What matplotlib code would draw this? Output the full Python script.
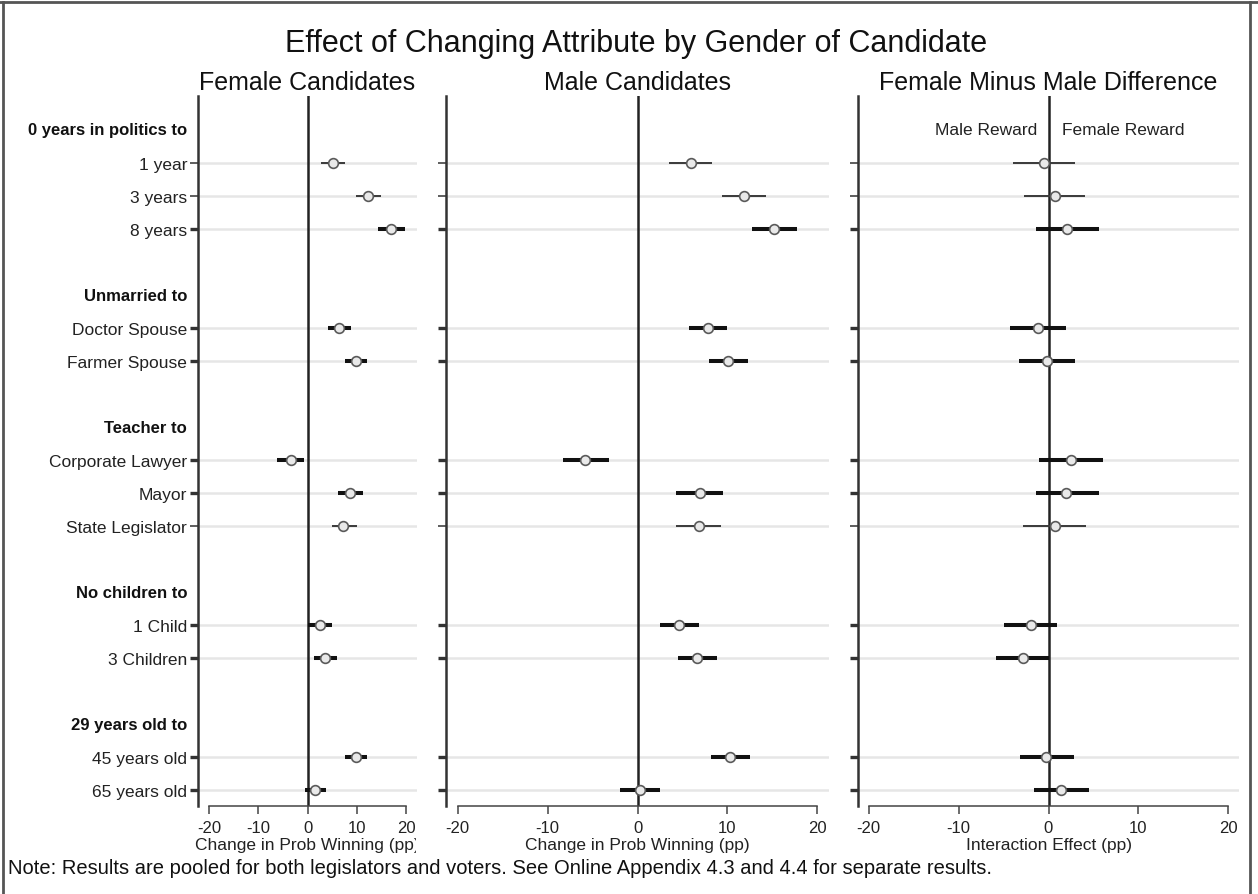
import matplotlib.pyplot as plt
from matplotlib.lines import Line2D
from matplotlib.transforms import Bbox, TransformedBbox, blended_transform_factory

plt.rcParams['font.family'] = ['Liberation Sans', 'DejaVu Sans']

# attribute groups and the levels compared against the baseline
groups = ["0 years in politics to", "Unmarried to", "Teacher to",
          "No children to", "29 years old to"]
levels = [["1 year", "3 years", "8 years"],
          ["Doctor Spouse", "Farmer Spouse"],
          ["Corporate Lawyer", "Mayor", "State Legislator"],
          ["1 Child", "3 Children"],
          ["45 years old", "65 years old"]]

# estimates and 95% intervals (pp), one value per level in the order above
female_est = [5.2, 12.3, 16.9, 6.4, 9.8, -3.4, 8.6, 7.2, 2.5, 3.6, 9.9, 1.5]
female_lo = [2.8, 9.8, 14.3, 4.2, 7.6, -6.1, 6.1, 4.9, 0.1, 1.4, 7.6, -0.6]
female_hi = [7.7, 14.8, 19.7, 8.8, 12.1, -0.8, 11.2, 10.0, 4.9, 6.0, 12.1, 3.8]

male_est = [5.9, 11.9, 15.2, 7.8, 10.1, -5.8, 6.9, 6.8, 4.6, 6.6, 10.3, 0.3]
male_lo = [3.5, 9.4, 12.7, 5.7, 8.0, -8.3, 4.3, 4.3, 2.5, 4.5, 8.2, -2.0]
male_hi = [8.3, 14.3, 17.7, 9.9, 12.3, -3.2, 9.5, 9.3, 6.8, 8.8, 12.5, 2.5]

diff_est = [-0.5, 0.7, 2.1, -1.2, -0.2, 2.5, 2.0, 0.7, -2.0, -2.8, -0.3, 1.4]
diff_lo = [-3.9, -2.7, -1.4, -4.3, -3.3, -1.1, -1.4, -2.8, -5.0, -5.8, -3.2, -1.6]
diff_hi = [2.9, 4.1, 5.6, 1.9, 2.9, 6.1, 5.6, 4.2, 1.0, 0.1, 2.8, 4.5]

# rows drawn with the heavy interval line
heavy = [False, False, True, True, True, True, True, False, True, True, True, True]

xticks = [-20, -10, 0, 10, 20]

# row layout: header row, its levels, then one blank row
ypos, header_y, labels = [], [], []
r = 0
for g, lv in zip(groups, levels):
    header_y.append(r)
    r += 1
    for name in lv:
        ypos.append(r)
        labels.append(name)
        r += 1
    r += 1

W, H = 1258, 895
fig = plt.figure(figsize=(W / 100, H / 100), dpi=100)

panels = [
    ("Female Candidates", female_est, female_lo, female_hi, "Change in Prob Winning (pp)", 198, 417, 22.2),
    ("Male Candidates", male_est, male_lo, male_hi, "Change in Prob Winning (pp)", 446, 829, 21.3),
    ("Female Minus Male Difference", diff_est, diff_lo, diff_hi, "Interaction Effect (pp)", 858, 1239, 21.2),
]

axes = []
for i, (title, est, lo, hi, xlab, x0, x1, lim) in enumerate(panels):
    ax = fig.add_axes([x0 / W, 1 - 807 / H, (x1 - x0) / W, 710 / H])
    axes.append(ax)
    ax.set_xlim(-lim, lim)
    ax.set_ylim(20.48, -1.03)

    for y in ypos:
        ax.axhline(y, color='#e6e6e6', lw=1.8, zorder=0)
    ax.axvline(0, color='#222222', lw=1.8, zorder=1)

    for y, a, b, hv in zip(ypos, lo, hi, heavy):
        if hv:
            ax.plot([a, b], [y, y], color='#111111', lw=2.9, solid_capstyle='butt', zorder=2)
        else:
            ax.plot([a, b], [y, y], color='#3a3a3a', lw=1.4, solid_capstyle='butt', zorder=2)
    ax.plot(est, ypos, 'o', mfc='#e9e9e9', mec='#5a5a5a', ms=7, mew=1.2, zorder=4)

    ax.spines['top'].set_visible(False)
    ax.spines['right'].set_visible(False)
    ax.spines['left'].set_linewidth(1.8)
    ax.spines['left'].set_color('#333333')
    ax.spines['bottom'].set_linewidth(1.1)
    ax.spines['bottom'].set_color('#444444')
    ax.spines['bottom'].set_bounds(-20, 20)

    ax.set_xticks(xticks)
    ax.set_xticklabels([str(t) for t in xticks])
    ax.tick_params(axis='x', length=5.8, width=1.1, color='#444444', labelsize=12,
                   pad=4, labelcolor='#222222')
    ax.set_yticks(ypos)
    if i == 0:
        ax.set_yticklabels(labels)
    else:
        ax.set_yticklabels([])
    ax.tick_params(axis='y', length=5.8, color='#333333', labelsize=12.5, pad=2,
                   labelcolor='#222222')
    for t, hv in zip(ax.yaxis.get_major_ticks(), heavy):
        t.tick1line.set_markeredgewidth(2.4 if hv else 1.1)

    ax.set_title(title, fontsize=18, pad=5, color='#111111')
    lbl = ax.set_xlabel(xlab, fontsize=12.5, labelpad=2, color='#222222')
    if i == 0:
        # label runs past the panel edge and is cut off there
        lbl.set_clip_on(True)
        lbl.set_clip_box(TransformedBbox(Bbox([[-1, -1], [0.995, 2]]), ax.transAxes))

# group headers left of the first panel
trans = blended_transform_factory(axes[0].transAxes, axes[0].transData)
for g, y in zip(groups, header_y):
    axes[0].annotate(g, xy=(0, y), xycoords=trans, xytext=(-7.9, 0),
                     textcoords='offset points', ha='right', va='center',
                     fontsize=12, fontweight='bold', color='#111111')

axes[2].annotate("Male Reward", xy=(0, header_y[0]), xytext=(-8, 0),
                 textcoords='offset points', ha='right', va='center', fontsize=12.5, color='#222222')
axes[2].annotate("Female Reward", xy=(0, header_y[0]), xytext=(9.6, 0),
                 textcoords='offset points', ha='left', va='center', fontsize=12.5, color='#222222')

fig.text(636 / W, 1 - 52 / H, "Effect of Changing Attribute by Gender of Candidate",
         ha='center', va='baseline', fontsize=22, color='#111111')
fig.text(8 / W, 1 - 874 / H,
         "Note: Results are pooled for both legislators and voters. "
         "See Online Appendix 4.3 and 4.4 for separate results.",
         ha='left', va='baseline', fontsize=14.5, color='#111111')

# outer frame
fig.add_artist(Line2D([0, 1], [1 - 3 / H, 1 - 3 / H], transform=fig.transFigure, color='#555555', lw=2))
fig.add_artist(Line2D([3 / W, 3 / W], [0, 1 - 3 / H], transform=fig.transFigure, color='#555555', lw=2))
fig.add_artist(Line2D([1250 / W, 1250 / W], [0, 1 - 3 / H], transform=fig.transFigure, color='#555555', lw=2))

fig.savefig('out.png', dpi=100)
